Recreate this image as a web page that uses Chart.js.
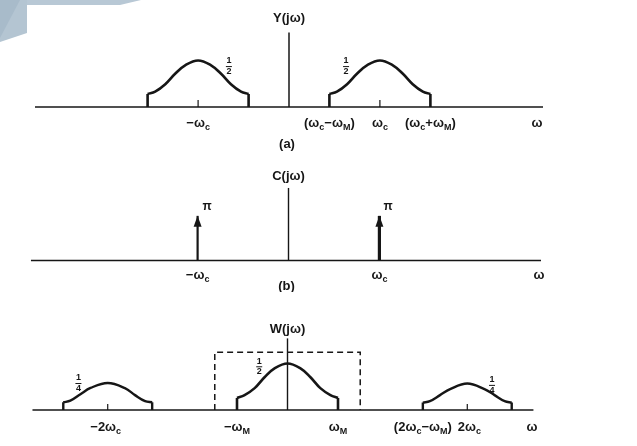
<!DOCTYPE html>
<html><head><meta charset="utf-8">
<script src="https://cdn.jsdelivr.net/npm/chart.js@4.4.1/dist/chart.umd.min.js"></script>
<style>
html,body{margin:0;padding:0;background:#fff;width:637px;height:446px;overflow:hidden}
canvas{position:absolute;left:0}
</style></head><body>
<canvas id="ca" width="637" height="158" style="top:0px"></canvas>
<canvas id="cb" width="637" height="142" style="top:150px"></canvas>
<canvas id="cc" width="637" height="154" style="top:292px"></canvas>
<script>
// ---------- DATA (x in units of ωM as drawn, y in drawn amplitude units) ----------
const omegaC = 1.8;                       // ωc as drawn (≈1.8 ωM)

// Panel (a): Y(jω)
const axisExtentA = [-5.03, 5.03];
const vAxisTopA = 0.80;
const humpOffsets = [-1, -0.85, -0.65, -0.45, -0.25, 0, 0.25, 0.45, 0.65, 0.85, 1];
const humpValuesA = [0.14, 0.165, 0.245, 0.36, 0.45, 0.5, 0.45, 0.36, 0.245, 0.165, 0.14];
const humpCentersA = [-1.8, 1.8];
const centerTickA = 0.075;
const tickValuesA = [-1.8, 0.8, 1.8, 2.8];
const tickLabelsA = ['−ω_c', '(ω_c−ω_M)', 'ω_c', '(ω_c+ω_M)'];
const fracPosA = [[-1.19, 0.44], [1.13, 0.44]];
const fracTextA = [['1', '2'], ['1', '2']];

// Panel (b): C(jω)
const axisExtentB = [-5.1, 5.0];
const vAxisTopB = 0.78;
const impulseX = [-1.8, 1.8];
const impulseValues = [0.48, 0.48];
const impulseLabels = ['π', 'π'];
const impulseLabelPos = [[-1.61, 0.575], [1.97, 0.575]];
const tickValuesB = [-1.8, 1.8];
const tickLabelsB = ['−ω_c', 'ω_c'];

// Panel (c): W(jω)
const axisExtentC = [-5.05, 4.87];
const vAxisTopC = 0.77;
const humpValuesW = [0.13, 0.16, 0.235, 0.355, 0.45, 0.5, 0.45, 0.355, 0.235, 0.16, 0.13];
const humpCenterW = 0;
const sideOffsets = [-0.88, -0.74, -0.54, -0.34, 0, 0.34, 0.54, 0.74, 0.88];
const sideValuesL = [0.083, 0.10, 0.17, 0.237, 0.29, 0.235, 0.16, 0.095, 0.083];
const sideValuesR = [0.08, 0.095, 0.16, 0.225, 0.285, 0.225, 0.16, 0.095, 0.08];
const sideCenters = [-3.56, 3.56];
const centerTickC = 0.065;
const filterEdges = [-1.44, 1.44];
const filterHeight = 0.62;
const tickValuesC = [-3.6, -1, 1, 2.68, 3.6];
const tickLabelsC = ['−2ω_c', '−ω_M', 'ω_M', '(2ω_c−ω_M)', '2ω_c'];
const fracPosC = [[-4.14, 0.29], [-0.56, 0.47], [4.05, 0.27]];
const fracTextC = [['1', '4'], ['1', '2'], ['1', '4']];

// ---------- LAYOUT ----------
const PPU = 50.5;   // pixels per x unit
const K = 93;       // pixels per y unit
const INK = '#161616';
const FONT = '"Liberation Sans", Arial, Helvetica, sans-serif';
const FS = 13;

function pts(xs, ys) { return xs.map((x, i) => ({x: x, y: ys[i]})); }
function line(data, w, extra) {
  return Object.assign({data: data, showLine: true, borderColor: INK, borderWidth: w,
    pointRadius: 0, tension: 0, fill: false, spanGaps: false, borderCapStyle: 'butt'}, extra || {});
}
function hump(center, offsets, values, w) {
  const curve = line(offsets.map((o, i) => ({x: center + o, y: values[i]})), w, {tension: 0.38});
  const a = center + offsets[0], b = center + offsets[offsets.length - 1];
  const edges = line([{x: a, y: 0}, {x: a, y: values[0]}, {x: a, y: null},
                      {x: b, y: values[values.length - 1]}, {x: b, y: 0}], w);
  return [curve, edges];
}

function drawMath(ctx, str, cx, cy, size) {
  const segs = [];
  for (let i = 0; i < str.length; i++) {
    if (str[i] === '_') { segs.push({t: str[i + 1], sub: true}); i++; }
    else if (segs.length && !segs[segs.length - 1].sub) segs[segs.length - 1].t += str[i];
    else segs.push({t: str[i], sub: false});
  }
  const fM = 'bold ' + size + 'px ' + FONT;
  const fS = 'bold ' + Math.round(size * 0.72) + 'px ' + FONT;
  let total = 0;
  segs.forEach(s => { ctx.font = s.sub ? fS : fM; s.w = ctx.measureText(s.t).width; total += s.w; });
  let x = cx - total / 2;
  ctx.textBaseline = 'middle'; ctx.textAlign = 'left'; ctx.fillStyle = INK;
  segs.forEach(s => {
    ctx.font = s.sub ? fS : fM;
    ctx.fillText(s.t, x, s.sub ? cy + size * 0.32 : cy);
    x += s.w;
  });
}
function drawFrac(ctx, n, d, cx, cy) {
  ctx.font = 'bold 9px ' + FONT; ctx.fillStyle = INK;
  ctx.textAlign = 'center'; ctx.textBaseline = 'middle';
  ctx.fillText(n, cx, cy - 5.2);
  ctx.fillText(d, cx, cy + 5.6);
  ctx.strokeStyle = INK; ctx.lineWidth = 1;
  ctx.beginPath(); ctx.moveTo(cx - 3, cy + 0.5); ctx.lineTo(cx + 3, cy + 0.5); ctx.stroke();
}

const annotPlugin = {
  id: 'annot',
  beforeDraw(chart, args, o) {
    if (!o.deco) return;
    const ctx = chart.ctx; ctx.save();
    ctx.fillStyle = '#b8c8d5';
    ctx.beginPath(); ctx.moveTo(27, 0); ctx.lineTo(141, 0); ctx.lineTo(120, 5); ctx.lineTo(27, 5); ctx.closePath(); ctx.fill();
    ctx.fillStyle = '#b4c5d2';
    ctx.beginPath(); ctx.moveTo(0, 0); ctx.lineTo(27, 0); ctx.lineTo(27, 33); ctx.lineTo(0, 42); ctx.closePath(); ctx.fill();
    ctx.fillStyle = '#a8bbca';
    ctx.beginPath(); ctx.moveTo(0, 0); ctx.lineTo(20, 0); ctx.lineTo(0, 38); ctx.closePath(); ctx.fill();
    ctx.restore();
  },
  afterDatasetsDraw(chart, args, o) {
    const ctx = chart.ctx, xs = chart.scales.x, ys = chart.scales.y;
    ctx.save();
    const y0 = ys.getPixelForValue(0);
    (o.ticks || []).forEach((v, i) => drawMath(ctx, o.tickLabels[i], xs.getPixelForValue(v), y0 + o.labelDy, FS));
    drawMath(ctx, 'ω', xs.getPixelForValue(o.omegaX), y0 + o.labelDy, FS);
    drawMath(ctx, o.title, xs.getPixelForValue(0), o.titleY, FS);
    if (o.caption) drawMath(ctx, o.caption, xs.getPixelForValue(0) - 2, o.captionY, FS);
    (o.fracs || []).forEach((p, i) => drawFrac(ctx, o.fracText[i][0], o.fracText[i][1], xs.getPixelForValue(p[0]), ys.getPixelForValue(p[1])));
    (o.pis || []).forEach((p, i) => {
      ctx.font = 'bold 12px ' + FONT; ctx.fillStyle = INK; ctx.textAlign = 'center'; ctx.textBaseline = 'middle';
      ctx.fillText(o.piText[i], xs.getPixelForValue(p[0]), ys.getPixelForValue(p[1]));
    });
    (o.arrows || []).forEach((p, i) => {
      const px = xs.getPixelForValue(p[0]), py = ys.getPixelForValue(p[1]);
      ctx.fillStyle = INK; ctx.beginPath();
      ctx.moveTo(px, py); ctx.lineTo(px + 4, py + 11); ctx.lineTo(px - 4, py + 11); ctx.closePath(); ctx.fill();
    });
    ctx.restore();
  }
};
Chart.register(annotPlugin);

function makePanel(id, x0, axisPx, H, datasets, annot) {
  return new Chart(document.getElementById(id), {
    type: 'scatter',
    data: {datasets: datasets},
    options: {
      responsive: false, animation: false, devicePixelRatio: 1, events: [],
      layout: {padding: 0},
      scales: {
        x: {type: 'linear', display: false, min: -x0 / PPU, max: (637 - x0) / PPU},
        y: {type: 'linear', display: false, min: -(H - axisPx) / K, max: axisPx / K}
      },
      plugins: {legend: {display: false}, tooltip: {enabled: false}, annot: annot}
    }
  });
}

// Panel (a)
const dsA = [
  line([{x: axisExtentA[0], y: 0}, {x: axisExtentA[1], y: 0}], 1.6),
  line([{x: 0, y: 0}, {x: 0, y: vAxisTopA}], 1.5)
];
humpCentersA.forEach(c => {
  dsA.push(...hump(c, humpOffsets, humpValuesA, 2.6));
  dsA.push(line([{x: c, y: 0}, {x: c, y: centerTickA}], 1.2));
});
makePanel('ca', 289, 107, 158, dsA, {
  deco: true, ticks: tickValuesA, tickLabels: tickLabelsA, labelDy: 16, omegaX: 4.91,
  title: 'Y(jω)', titleY: 18, caption: '(a)', captionY: 144,
  fracs: fracPosA, fracText: fracTextA
});

// Panel (b)
const dsB = [
  line([{x: axisExtentB[0], y: 0}, {x: axisExtentB[1], y: 0}], 1.6),
  line([{x: 0, y: 0}, {x: 0, y: vAxisTopB}], 1.4),
  line([{x: impulseX[0], y: 0}, {x: impulseX[0], y: impulseValues[0]}], 2.2),
  line([{x: impulseX[1], y: 0}, {x: impulseX[1], y: impulseValues[1]}], 3.2)
];
makePanel('cb', 288.5, 110.5, 142, dsB, {
  ticks: tickValuesB, tickLabels: tickLabelsB, labelDy: 14.5, omegaX: 4.96,
  title: 'C(jω)', titleY: 26, caption: '(b)', captionY: 136,
  pis: impulseLabelPos, piText: impulseLabels, arrows: pts(impulseX, impulseValues).map(p => [p.x, p.y])
});

// Panel (c)
const dsC = [
  line([{x: axisExtentC[0], y: 0}, {x: axisExtentC[1], y: 0}], 1.6),
  line([{x: 0, y: 0}, {x: 0, y: vAxisTopC}], 1.4),
  line([{x: filterEdges[0], y: 0}, {x: filterEdges[0], y: filterHeight},
        {x: filterEdges[1], y: filterHeight}, {x: filterEdges[1], y: 0}], 1.5, {borderDash: [6, 4]})
];
dsC.push(...hump(humpCenterW, humpOffsets, humpValuesW, 2.6));
dsC.push(...hump(sideCenters[0], sideOffsets, sideValuesL, 2.4));
dsC.push(...hump(sideCenters[1], sideOffsets, sideValuesR, 2.4));
sideCenters.forEach(c => dsC.push(line([{x: c, y: 0}, {x: c, y: centerTickC}], 1.2)));
makePanel('cc', 287.5, 118, 154, dsC, {
  ticks: tickValuesC, tickLabels: tickLabelsC, labelDy: 17, omegaX: 4.84,
  title: 'W(jω)', titleY: 37,
  fracs: fracPosC, fracText: fracTextC
});
</script>
</body></html>
